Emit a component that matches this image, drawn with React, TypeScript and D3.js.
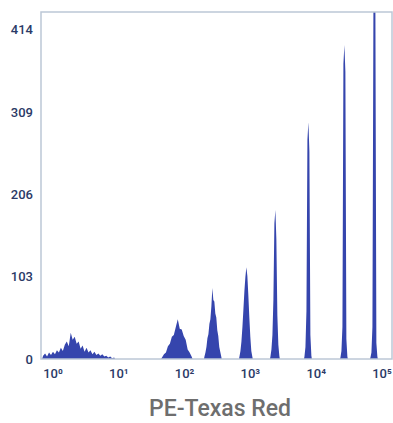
import React from 'react';
import * as d3 from 'd3';

// log10 fluorescence bins (start, step) and event counts for each population
const noiseStart = -0.12;
const noiseStep = 0.03;
const noiseCounts = [4, 7, 3, 8, 5, 9, 6, 11, 8, 14, 10, 18, 22, 16, 33, 24, 28, 19, 22, 13, 17, 9, 14, 8, 11, 6, 9, 5, 7, 4, 6, 3, 4, 2, 3, 1, 2];

const peak1Start = 1.687;
const peak1Step = 0.03;
const peak1Counts = [2, 6, 8, 16, 19, 28, 30, 40, 50, 38, 37, 29, 24, 12, 8, 3];

const peak2Start = 2.34;
const peak2Step = 0.015;
const peak2Counts = [3, 8, 15, 26, 31, 44, 50, 66, 89, 74, 72, 57, 52, 36, 29, 15, 9, 3];

const peak3Start = 2.872;
const peak3Step = 0.015;
const peak3Counts = [3, 10, 22, 40, 62, 85, 103, 115, 104, 80, 52, 28, 10, 3];

const peak4Start = 3.343;
const peak4Step = 0.015;
const peak4Counts = [3, 12, 30, 75, 170, 187, 150, 55, 18, 4];

const peak5Start = 3.86;
const peak5Step = 0.015;
const peak5Counts = [3, 15, 60, 275, 297, 260, 30, 4];

const peak6Start = 4.407;
const peak6Step = 0.015;
const peak6Counts = [2, 10, 40, 370, 394, 360, 25, 3];

const peak7Start = 4.863;
const peak7Step = 0.015;
const peak7Counts = [2, 8, 40, 440, 470, 440, 20, 3];

const yTicks = [0, 103, 206, 309, 414];
const xDecades = [0, 1, 2, 3, 4, 5];
const supers = ['\u2070', '\u00b9', '\u00b2', '\u00b3', '\u2074', '\u2075'];

const W = 393, H = 423;
const left = 41, right = 392, top = 12, bottom = 359;

export default function App() {
  // x in log10 units
  const x = d3.scaleLinear().domain([-0.137, 5.198]).range([left, right]);
  const y = d3.scaleLinear().domain([0, 414]).range([bottom, 29]);

  const pops = [
    [noiseStart, noiseStep, noiseCounts],
    [peak1Start, peak1Step, peak1Counts],
    [peak2Start, peak2Step, peak2Counts],
    [peak3Start, peak3Step, peak3Counts],
    [peak4Start, peak4Step, peak4Counts],
    [peak5Start, peak5Step, peak5Counts],
    [peak6Start, peak6Step, peak6Counts],
    [peak7Start, peak7Step, peak7Counts],
  ] as [number, number, number[]][];

  const area = d3.area<{ v: number; c: number }>()
    .x(d => x(d.v))
    .y0(y(0))
    .y1(d => y(d.c));

  return (
    <svg width={W} height={H} style={{ position: 'absolute', left: 0, top: 0 }}
      fontFamily="Roboto, 'Noto Sans', sans-serif">
      <defs>
        <clipPath id="plot">
          <rect x={left} y={top} width={right - left} height={bottom - top} />
        </clipPath>
      </defs>
      <g clipPath="url(#plot)">
        {pops.map(([start, step, counts], i) => {
          const pts = counts.map((c, j) => ({ v: start + (j + 0.5) * step, c }));
          pts.unshift({ v: start, c: 0 });
          pts.push({ v: start + counts.length * step, c: 0 });
          return <path key={i} d={area(pts) || ''} fill="#3545ad" />;
        })}
      </g>
      <rect x={left} y={top} width={right - left} height={bottom - top}
        fill="none" stroke="#bcc7d6" strokeWidth={1.5} />
      {yTicks.map(t => (
        <text key={t} x={33} y={y(t)} dy="0.35em" textAnchor="end"
          fontSize={13} fontWeight={500} fill="#2b3a67">{t}</text>
      ))}
      {xDecades.map((d, i) => (
        <text key={d} x={x(d) + 3} y={378} textAnchor="middle"
          fontSize={13} fontWeight={500} fill="#2b3a67">10{supers[i]}</text>
      ))}
      <text x={220} y={416} textAnchor="middle" fontSize={23} fontWeight={500}
        fill="#6e6e6e">PE-Texas Red</text>
    </svg>
  );
}
